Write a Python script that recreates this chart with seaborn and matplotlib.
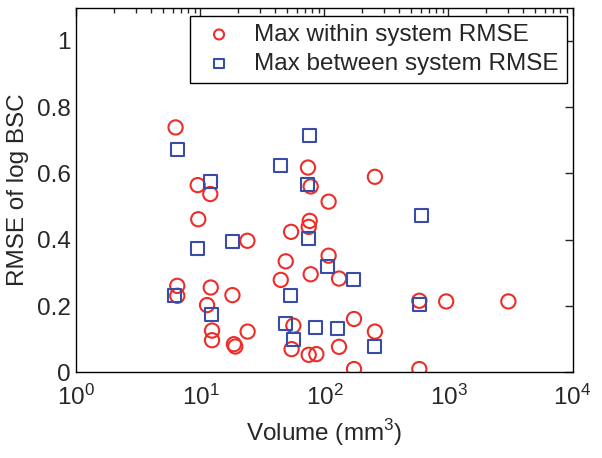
import numpy as np
import pandas as pd
import matplotlib
matplotlib.use("Agg")
import matplotlib.pyplot as plt
from matplotlib.ticker import FixedLocator, LogLocator, NullFormatter
import seaborn as sns

# Max within system RMSE (red circles)
within_vol = [6.3, 6.5, 6.5, 9.5, 9.6, 12.0, 12.1, 11.3, 12.4, 12.4,
              18.1, 18.6, 19.1, 23.9, 24.0, 44.4, 48.7, 53.8, 56.1, 54.3,
              74.6, 86.0, 73.6, 77.4, 76.0, 74.6, 77.4, 108, 108, 131,
              131, 173, 173, 255, 255, 582, 582, 958, 3040]
within_rmse = [0.739, 0.261, 0.231, 0.565, 0.462, 0.538, 0.256, 0.203, 0.126, 0.097,
               0.233, 0.085, 0.078, 0.397, 0.123, 0.279, 0.335, 0.424, 0.141, 0.070,
               0.053, 0.055, 0.618, 0.561, 0.457, 0.439, 0.296, 0.515, 0.352, 0.283,
               0.077, 0.161, 0.010, 0.590, 0.123, 0.216, 0.010, 0.214, 0.214]

# Max between system RMSE (blue squares)
between_vol = [6.5, 6.2, 9.5, 12.0, 12.2, 18.1, 44.0, 48.7, 53.0, 56.1,
               76.0, 73.0, 74.6, 84.3, 106, 128, 170, 252, 603, 580]
between_rmse = [0.673, 0.233, 0.374, 0.575, 0.176, 0.395, 0.623, 0.146, 0.231, 0.100,
                0.716, 0.568, 0.404, 0.136, 0.320, 0.131, 0.281, 0.078, 0.474, 0.206]

labels = ["Max within system RMSE", "Max between system RMSE"]
red = "#ec2d28"
blue = "#384ca8"

sns.set_style("white")
plt.rcParams.update({"font.size": 17.5, "font.family": ["Liberation Sans", "DejaVu Sans"],
                     "mathtext.fontset": "custom", "mathtext.rm": "Liberation Sans"})

df_w = pd.DataFrame({"Volume": within_vol, "RMSE": within_rmse})
df_b = pd.DataFrame({"Volume": between_vol, "RMSE": between_rmse})

fig = plt.figure(figsize=(6.02, 4.58), dpi=100)
ax = fig.add_axes([0.127, 0.187, 0.824, 0.796])

sns.scatterplot(data=df_w, x="Volume", y="RMSE", ax=ax, marker="o", s=105,
                facecolor="none", edgecolor=red, linewidth=1.5, label=labels[0])
sns.scatterplot(data=df_b, x="Volume", y="RMSE", ax=ax, marker="s", s=88,
                facecolor="none", edgecolor=blue, linewidth=1.5, label=labels[1])

ax.set_xscale("log")
ax.set_xlim(1, 1e4)
ax.set_ylim(0, 1.1)
ax.yaxis.set_major_locator(FixedLocator([0, 0.2, 0.4, 0.6, 0.8, 1.0]))
ax.set_yticklabels(["0", "0.2", "0.4", "0.6", "0.8", "1"])
ax.xaxis.set_major_locator(LogLocator(base=10, numticks=10))
ax.xaxis.set_minor_locator(LogLocator(base=10, subs=np.arange(2, 10), numticks=50))
ax.xaxis.set_minor_formatter(NullFormatter())
ax.tick_params(which="both", direction="in", top=True, right=True, width=1, labelsize=17.5)
ax.tick_params(which="major", length=6)
ax.tick_params(which="minor", length=3.5)
ax.tick_params(axis="x", which="major", pad=9)
ax.tick_params(axis="y", which="major", pad=4)
for sp in ax.spines.values():
    sp.set_color("black")
    sp.set_linewidth(1)

ax.set_xlabel("Volume (mm$^3$)", fontsize=17.5, labelpad=5)
ax.set_ylabel("RMSE of log BSC", fontsize=17.5, labelpad=6)

leg = ax.legend(loc="upper right", bbox_to_anchor=(0.9885, 0.978), borderaxespad=0,
                fancybox=False, edgecolor="black", fontsize=17.5, handletextpad=0.6,
                borderpad=0.33, labelspacing=0.3, handlelength=1.7, markerscale=0.7,
                framealpha=1)
leg.get_frame().set_linewidth(1)

fig.savefig("out.png", dpi=100)
